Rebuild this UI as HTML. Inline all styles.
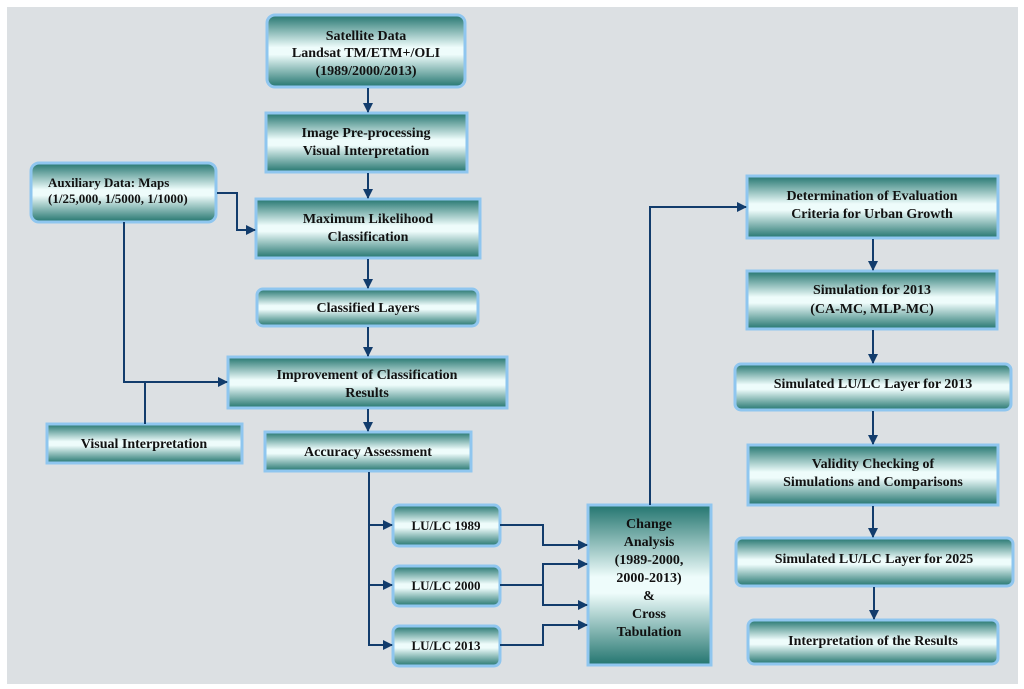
<!DOCTYPE html>
<html><head><meta charset="utf-8"><style>
html,body{margin:0;padding:0;background:#fff;}
svg{display:block;}
text{font-family:"Liberation Serif",serif;font-weight:bold;font-size:14px;fill:#111;text-anchor:middle;}
</style></head><body>
<svg width="1024" height="689" viewBox="0 0 1024 689" xmlns="http://www.w3.org/2000/svg">
<defs>
<linearGradient id="g" x1="0" y1="0" x2="0" y2="1">
<stop offset="0" stop-color="#23756f"/>
<stop offset="0.45" stop-color="#eefcfb"/>
<stop offset="0.55" stop-color="#eefcfb"/>
<stop offset="1" stop-color="#23756f"/>
</linearGradient>
<marker id="a" markerWidth="10" markerHeight="10" refX="9" refY="5" orient="auto" markerUnits="userSpaceOnUse">
<path d="M0,0 L10,5 L0,10 z" fill="#123c6c"/>
</marker>
</defs>
<rect x="7" y="7" width="1011" height="677" fill="#dce0e3"/>
<g fill="url(#g)" stroke="#8fc6ef" stroke-width="3">
<rect x="267" y="15" width="198" height="72" rx="8"/>
<rect x="266" y="113" width="201" height="59"/>
<rect x="31" y="163" width="185" height="59" rx="8"/>
<rect x="256" y="199" width="224" height="59"/>
<rect x="257" y="289" width="221" height="37" rx="6"/>
<rect x="228" y="357" width="279" height="51"/>
<rect x="47" y="424" width="195" height="39"/>
<rect x="265" y="432" width="206" height="39"/>
<rect x="393" y="505" width="107" height="41" rx="6"/>
<rect x="393" y="566" width="107" height="40" rx="6"/>
<rect x="393" y="626" width="107" height="40" rx="6"/>
<rect x="588" y="505" width="123" height="160"/>
<rect x="747" y="176" width="251" height="62"/>
<rect x="747" y="271" width="250" height="58"/>
<rect x="735" y="364" width="276" height="46" rx="6"/>
<rect x="748" y="445" width="250" height="60"/>
<rect x="736" y="538" width="277" height="48" rx="6"/>
<rect x="748" y="620" width="250" height="44" rx="6"/>
</g>
<g stroke="#123c6c" stroke-width="2" fill="none" marker-end="url(#a)">
<path d="M368,88 V112"/>
<path d="M368,173 V198"/>
<path d="M368,259 V288"/>
<path d="M368,327 V356"/>
<path d="M368,409 V431"/>
<path d="M217,193 H237 V230 H255"/>
<path d="M124,222 V382 H227"/>
<path d="M369,472 V645 H392"/>
<path d="M369,525 H392"/>
<path d="M369,585 H392"/>
<path d="M500,525 H543 V545 H587"/>
<path d="M500,585 H543 V564 H587"/>
<path d="M543,585 V605 H587"/>
<path d="M500,645 H543 V625 H587"/>
<path d="M650,505 V207 H746"/>
<path d="M873,239 V270"/>
<path d="M873,330 V363"/>
<path d="M873,411 V444"/>
<path d="M873,506 V537"/>
<path d="M874,587 V619"/>
</g>
<path d="M145,424 V382" stroke="#123c6c" stroke-width="2"/>
<text x="366" y="40">Satellite Data</text>
<text x="366" y="57">Landsat TM/ETM+/OLI</text>
<text x="366" y="75">(1989/2000/2013)</text>
<text x="366" y="137">Image Pre-processing</text>
<text x="366" y="155">Visual Interpretation</text>
<text x="48" y="187" style="text-anchor:start;font-size:13px">Auxiliary Data: Maps</text>
<text x="48" y="203" style="text-anchor:start;font-size:13px">(1/25,000, 1/5000, 1/1000)</text>
<text x="368" y="223">Maximum Likelihood</text>
<text x="368" y="241">Classification</text>
<text x="368" y="312">Classified Layers</text>
<text x="367" y="379">Improvement of Classification</text>
<text x="367" y="397">Results</text>
<text x="144" y="448">Visual Interpretation</text>
<text x="368" y="456">Accuracy Assessment</text>
<text x="446" y="530" style="font-size:13px">LU/LC 1989</text>
<text x="446" y="590" style="font-size:13px">LU/LC 2000</text>
<text x="446" y="650" style="font-size:13px">LU/LC 2013</text>
<text x="649" y="528">Change</text>
<text x="649" y="546">Analysis</text>
<text x="649" y="564">(1989-2000,</text>
<text x="649" y="582">2000-2013)</text>
<text x="649" y="600">&amp;</text>
<text x="649" y="618">Cross</text>
<text x="649" y="636">Tabulation</text>
<text x="872" y="200">Determination of Evaluation</text>
<text x="872" y="218">Criteria for Urban Growth</text>
<text x="872" y="294">Simulation for 2013</text>
<text x="872" y="313">(CA-MC, MLP-MC)</text>
<text x="873" y="388">Simulated LU/LC Layer for 2013</text>
<text x="873" y="468">Validity Checking of</text>
<text x="873" y="486">Simulations and Comparisons</text>
<text x="874" y="563">Simulated LU/LC Layer for 2025</text>
<text x="873" y="645">Interpretation of the Results</text>
</svg>
</body></html>
